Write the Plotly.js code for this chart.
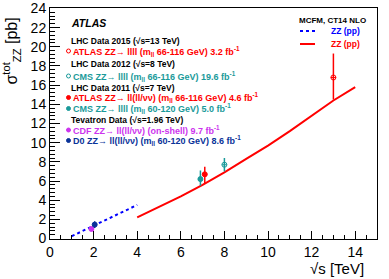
<!DOCTYPE html>
<html>
<head>
<meta charset="utf-8">
<script src="https://cdn.plot.ly/plotly-3.0.1.min.js"></script>
<style>html,body{margin:0;padding:0;background:#fff;}#chart{width:389px;height:279px;}</style>
</head>
<body>
<div id="chart"></div>
<script>
// Theory curves (MCFM, CT14 NLO)
const ppbarX = [1.0, 1.5, 2.0, 2.5, 3.0, 3.5, 4.0];
const ppbarY = [0.25, 0.8, 1.35, 1.9, 2.45, 2.95, 3.5];
const ppX = [4, 5, 6, 7, 8, 9, 10, 11, 12, 13, 14];
const ppY = [2.2, 3.3, 4.4, 5.6, 6.9, 8.3, 9.7, 11.2, 12.8, 14.4, 15.8];

// Measurements
const atlas13X = [13.0], atlas13Y = [16.8], atlas13Up = [2.5], atlas13Dn = [2.3];
const cms8X = [8.0], cms8Y = [7.7], cms8Up = [0.7], cms8Dn = [0.7];
const atlas7X = [7.1], atlas7Y = [6.7], atlas7Up = [0.8], atlas7Dn = [0.9];
const cms7X = [6.9], cms7Y = [6.2], cms7Up = [0.9], cms7Dn = [0.7];
const cdfX = [1.9], cdfY = [1.0], cdfErr = [0.2];
const d0X = [2.05], d0Y = [1.45], d0Err = [0.35];

const xTicks = [0, 2, 4, 6, 8, 10, 12, 14];
const yTicks = [0, 2, 4, 6, 8, 10, 12, 14, 16, 18, 20, 22, 24];

const RED = '#ff0000', TEAL = '#1a9a9a', MAG = '#cc33ee', NAVY = '#0a3399', BLUE = '#0000ff';
const FONT = 'Liberation Sans, Arial, sans-serif';

// pixel -> paper helpers (plot area: x 50..377, y 8..239)
const L = 50, R = 377, T = 8, B = 239;
const px = v => (v - L) / (R - L);
const py = v => (B - v) / (B - T);

function meas(x, y, up, dn, color, symbol) {
  return {
    x: x, y: y, type: 'scatter', mode: 'markers',
    marker: {color: color, size: 5, symbol: symbol, line: {color: color, width: 1}},
    error_y: {type: 'data', symmetric: false, array: up, arrayminus: dn, color: color, thickness: 1.5, width: 0},
    showlegend: false, hoverinfo: 'none', cliponaxis: false
  };
}

const traces = [
  {x: ppbarX, y: ppbarY, type: 'scatter', mode: 'lines', line: {color: BLUE, width: 2, dash: 'dot'}, showlegend: false, hoverinfo: 'none'},
  {x: ppX, y: ppY, type: 'scatter', mode: 'lines', line: {color: RED, width: 2}, showlegend: false, hoverinfo: 'none'},
  meas(atlas13X, atlas13Y, atlas13Up, atlas13Dn, RED, 'circle-cross-open'),
  meas(cms8X, cms8Y, cms8Up, cms8Dn, TEAL, 'circle-cross-open'),
  meas(cms7X, cms7Y, cms7Up, cms7Dn, TEAL, 'circle'),
  meas(atlas7X, atlas7Y, atlas7Up, atlas7Dn, RED, 'circle'),
  meas(cdfX, cdfY, cdfErr, cdfErr, MAG, 'circle'),
  meas(d0X, d0Y, d0Err, d0Err, NAVY, 'circle')
];

const ann = [];
function txt(x, y, text, color, size, opts) {
  ann.push(Object.assign({
    xref: 'paper', yref: 'paper', x: px(x), y: py(y), text: text, showarrow: false,
    xanchor: 'left', yanchor: 'middle',
    font: {family: FONT, size: size, color: color}
  }, opts || {}));
}
txt(69, 23, '<b><i>ATLAS</i></b>', '#000', 10.5);
txt(69, 41, '<b>LHC Data 2015 (√s=13 TeV)</b>', '#000', 8.5);
txt(71, 51, '<b>ATLAS ZZ→ llll (m<sub>ll</sub> 66-116 GeV) 3.2 fb<sup>-1</sup></b>', RED, 9);
txt(69, 64, '<b>LHC Data 2012 (√s=8 TeV)</b>', '#000', 8.5);
txt(71, 76, '<b>CMS ZZ→ llll (m<sub>ll</sub> 66-116 GeV) 19.6 fb<sup>-1</sup></b>', TEAL, 9);
txt(69, 88, '<b>LHC Data 2011 (√s=7 TeV)</b>', '#000', 8.5);
txt(71, 97.5, '<b>ATLAS ZZ→ ll(ll/νν) (m<sub>ll</sub> 66-116 GeV) 4.6 fb<sup>-1</sup></b>', RED, 9);
txt(71, 108.5, '<b>CMS ZZ→ llll (m<sub>ll</sub> 60-120 GeV) 5.0 fb<sup>-1</sup></b>', TEAL, 9);
txt(69, 120, '<b>Tevatron Data (√s=1.96 TeV)</b>', '#000', 8.5);
txt(71, 130, '<b>CDF ZZ→ ll(ll/νν) (on-shell) 9.7 fb<sup>-1</sup></b>', MAG, 9);
txt(71, 140.5, '<b>D0 ZZ→ ll(ll/νν) (m<sub>ll</sub> 60-120 GeV) 8.6 fb<sup>-1</sup></b>', NAVY, 9);

txt(297, 21, '<b>MCFM, CT14 NLO</b>', '#000', 8);
txt(329, 31, '<b>ZZ (pp)</b>', BLUE, 8.5);
txt(329, 44, '<b>ZZ (pp)</b>', RED, 8.5);

// axis titles
ann.push({xref: 'paper', yref: 'paper', x: px(366), y: py(268), xanchor: 'right', yanchor: 'middle',
  text: '√s [TeV]', showarrow: false, font: {family: FONT, size: 15, color: '#000'}});
ann.push({xref: 'paper', yref: 'paper', x: px(11), y: py(16), xanchor: 'center', yanchor: 'top', textangle: -90,
  text: 'σ<sup>tot</sup><sub>ZZ</sub> [pb]', showarrow: false, font: {family: FONT, size: 16, color: '#000'}});

const shapes = [
  {type: 'line', xref: 'paper', yref: 'paper', x0: px(300), x1: px(315), y0: py(31), y1: py(31), line: {color: BLUE, width: 2, dash: 'dot'}},
  {type: 'line', xref: 'paper', yref: 'paper', x0: px(300), x1: px(315), y0: py(44), y1: py(44), line: {color: RED, width: 2}}
];
function mk(x, y, color, filled) {
  const r = 2;
  shapes.push({type: 'circle', xref: 'paper', yref: 'paper',
    x0: px(x - r), x1: px(x + r), y0: py(y + r), y1: py(y - r),
    fillcolor: filled ? color : 'rgba(0,0,0,0)', line: {color: color, width: 1}});
}
mk(68.5, 51, RED, false);
mk(68.5, 76, TEAL, false);
mk(68.5, 97.5, RED, true);
mk(68.5, 108.5, TEAL, true);
mk(68.5, 130, MAG, true);
mk(68.5, 140.5, NAVY, true);

const layout = {
  width: 389, height: 279,
  margin: {l: L, r: 389 - R, t: T, b: 279 - B},
  paper_bgcolor: '#fff', plot_bgcolor: '#fff',
  showlegend: false,
  xaxis: {
    range: [0, 15], tickvals: xTicks, ticktext: xTicks.map(String),
    ticks: 'inside', ticklen: 8, tickwidth: 1, tickcolor: '#000',
    minor: {dtick: 0.5, ticks: 'inside', ticklen: 4, tickcolor: '#000', showgrid: false},
    showline: true, linecolor: '#000', linewidth: 1, mirror: true,
    showgrid: false, zeroline: false,
    tickfont: {family: FONT, size: 14, color: '#000'}
  },
  yaxis: {
    range: [-0.05, 24.05], tickvals: yTicks, ticktext: yTicks.map(String),
    ticks: 'inside', ticklen: 10, tickwidth: 1, tickcolor: '#000',
    minor: {dtick: 0.4, ticks: 'inside', ticklen: 5, tickcolor: '#000', showgrid: false},
    showline: true, linecolor: '#000', linewidth: 1, mirror: true,
    showgrid: false, zeroline: false,
    ticklabeloverflow: 'allow',
    tickfont: {family: FONT, size: 14, color: '#000'}
  },
  annotations: ann,
  shapes: shapes
};

Plotly.newPlot('chart', traces, layout, {staticPlot: true, displayModeBar: false});
</script>
</body>
</html>
